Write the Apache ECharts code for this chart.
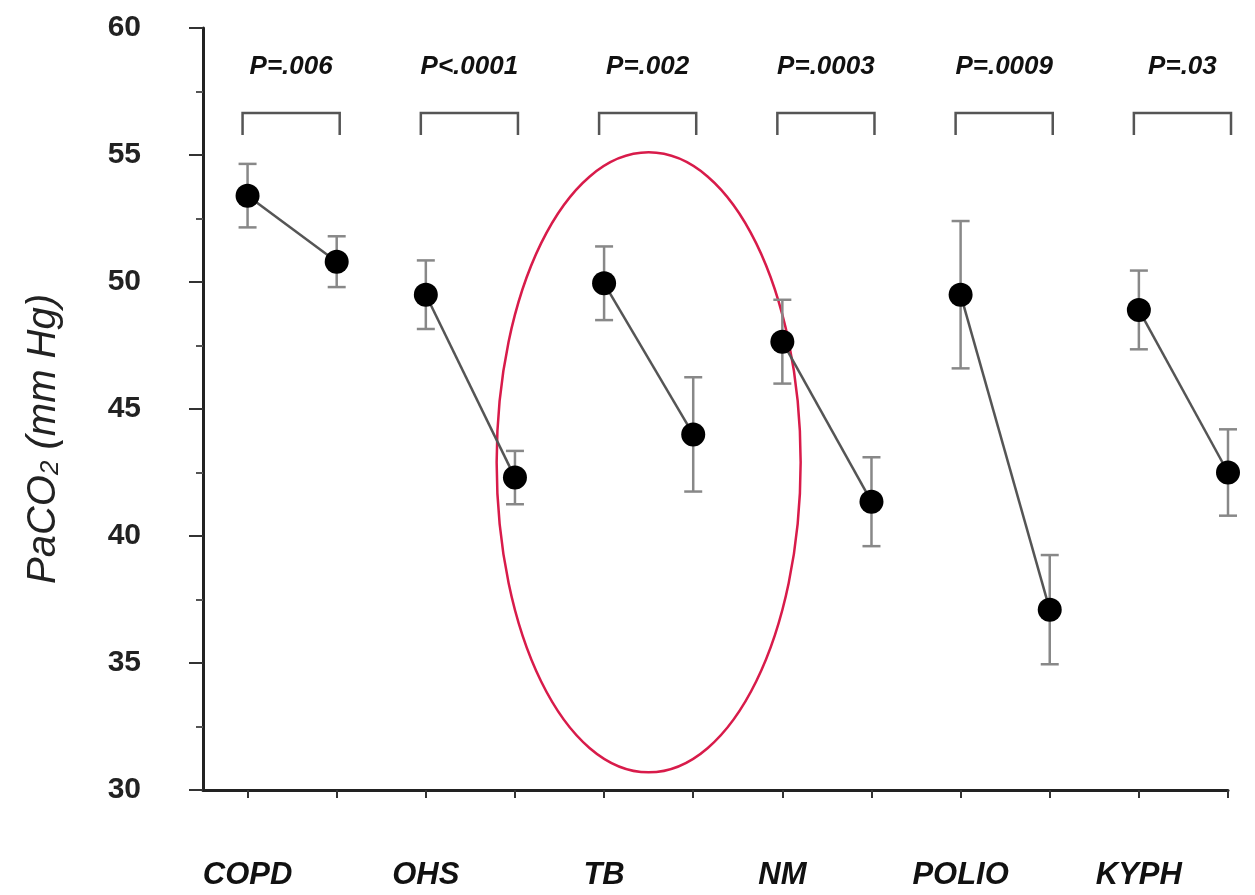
<!DOCTYPE html>
<html>
<head>
<meta charset="utf-8">
<script src="https://cdn.jsdelivr.net/npm/echarts@6/dist/echarts.min.js"></script>
<style>
  html, body { margin: 0; padding: 0; background: #fff; }
  #main { width: 1255px; height: 895px; }
</style>
</head>
<body>
<div id="main"></div>
<script>
// groups, pre / post PaCO2 means and error bars (mm Hg)
var groups = ['COPD', 'OHS', 'TB', 'NM', 'POLIO', 'KYPH'];
var preMean = [53.4, 49.5, 49.95, 47.65, 49.5, 48.9];
var preErr = [1.25, 1.35, 1.45, 1.65, 2.9, 1.55];
var postMean = [50.8, 42.3, 44.0, 41.35, 37.1, 42.5];
var postErr = [1.0, 1.05, 2.25, 1.75, 2.15, 1.7];
var pLabels = ['P=.006', 'P<.0001', 'P=.002', 'P=.0003', 'P=.0009', 'P=.03'];
var yTicks = [30, 35, 40, 45, 50, 55, 60];

var font = "'Liberation Sans', Arial, sans-serif";

var errData = [];
groups.forEach(function (g, i) {
    errData.push([2 * i, preMean[i], preErr[i]]);
    errData.push([2 * i + 1, postMean[i], postErr[i]]);
});

var lineSeries = groups.map(function (g, i) {
    return {
        name: g,
        type: 'line',
        data: [[2 * i, preMean[i]], [2 * i + 1, postMean[i]]],
        symbol: 'circle',
        symbolSize: 24,
        itemStyle: { color: '#000' },
        lineStyle: { color: '#555', width: 2.5 },
        z: 5,
        animation: false
    };
});

var myChart = echarts.init(document.getElementById('main'));
myChart.setOption({
    backgroundColor: '#fff',
    animation: false,
    grid: { left: 203, right: 27, top: 28, bottom: 105 },
    xAxis: {
        type: 'value',
        min: -0.5,
        max: 11,
        splitLine: { show: false },
        axisLine: { onZero: false, lineStyle: { color: '#222', width: 3 } },
        axisTick: {
            show: true,
            customValues: [0, 1, 2, 3, 4, 5, 6, 7, 8, 9, 10, 11],
            length: 8,
            lineStyle: { color: '#333', width: 2 }
        },
        axisLabel: {
            customValues: [0, 2, 4, 6, 8, 10],
            formatter: function (v) { return groups[Math.round(v / 2)]; },
            margin: 70,
            fontSize: 31,
            fontWeight: 'bold',
            fontStyle: 'italic',
            fontFamily: font,
            color: '#111'
        }
    },
    yAxis: {
        type: 'value',
        min: yTicks[0],
        max: yTicks[yTicks.length - 1],
        interval: 5,
        splitLine: { show: false },
        axisLine: { show: true, onZero: false, lineStyle: { color: '#222', width: 3 } },
        axisTick: { show: true, length: 14, lineStyle: { color: '#333', width: 2 } },
        minorTick: { show: true, splitNumber: 2, length: 7, lineStyle: { color: '#555', width: 2 } },
        axisLabel: {
            margin: 62,
            fontSize: 30,
            fontWeight: 'bold',
            fontFamily: font,
            color: '#222'
        },
        name: '{a|PaCO}{s|2}{a| (mm Hg)}',
        nameLocation: 'middle',
        nameGap: 139,
        nameRotate: 90,
        nameTextStyle: {
            padding: [0, 60, 0, 0],
            rich: {
                a: { fontSize: 40, fontStyle: 'italic', fontFamily: font, color: '#222' },
                s: { fontSize: 26, fontStyle: 'italic', fontFamily: font, color: '#222', verticalAlign: 'bottom', padding: [14, 0, 0, 0] }
            }
        }
    },
    series: [
        {
            name: 'brackets',
            type: 'custom',
            data: groups.map(function (g, i) { return [2 * i, 2 * i + 1]; }),
            encode: { x: [0, 1] },
            renderItem: function (params, api) {
                var i = params.dataIndex;
                var l = api.coord([api.value(0), 56.65]);
                var r = api.coord([api.value(1), 56.65]);
                var x1 = l[0] - 5, x2 = r[0] + 3, y1 = l[1], y2 = l[1] + 22;
                return {
                    type: 'group',
                    children: [
                        { type: 'polyline', shape: { points: [[x1, y2], [x1, y1], [x2, y1], [x2, y2]] },
                          style: { stroke: '#555', lineWidth: 2.5, fill: null } },
                        { type: 'text', style: { text: pLabels[i], x: (x1 + x2) / 2, y: y1 - 46,
                          textAlign: 'center', textVerticalAlign: 'middle',
                          font: 'italic bold 26px ' + font, fill: '#111' } }
                    ]
                };
            },
            z: 2
        },
        {
            name: 'errors',
            type: 'custom',
            data: errData,
            encode: { x: 0, y: 1 },
            renderItem: function (params, api) {
                var x = api.value(0), m = api.value(1), e = api.value(2);
                var t = api.coord([x, m + e]);
                var b = api.coord([x, m - e]);
                var w = 9;
                var st = { stroke: '#888', lineWidth: 2.5 };
                return {
                    type: 'group',
                    children: [
                        { type: 'line', shape: { x1: t[0], y1: t[1], x2: b[0], y2: b[1] }, style: st },
                        { type: 'line', shape: { x1: t[0] - w, y1: t[1], x2: t[0] + w, y2: t[1] }, style: st },
                        { type: 'line', shape: { x1: b[0] - w, y1: b[1], x2: b[0] + w, y2: b[1] }, style: st }
                    ]
                };
            },
            z: 3
        }
    ].concat(lineSeries)
});

// red highlight ellipse around the TB pair
var c = myChart.convertToPixel({ gridIndex: 0 }, [4.5, 42.9]);
myChart.setOption({
    graphic: [{
        type: 'ellipse',
        shape: { cx: c[0], cy: c[1], rx: 152, ry: 310 },
        style: { stroke: '#d81b4a', lineWidth: 2.5, fill: null },
        z: 1
    }]
});

window.addEventListener('resize', function () {
    myChart.resize();
});
</script>
</body>
</html>
